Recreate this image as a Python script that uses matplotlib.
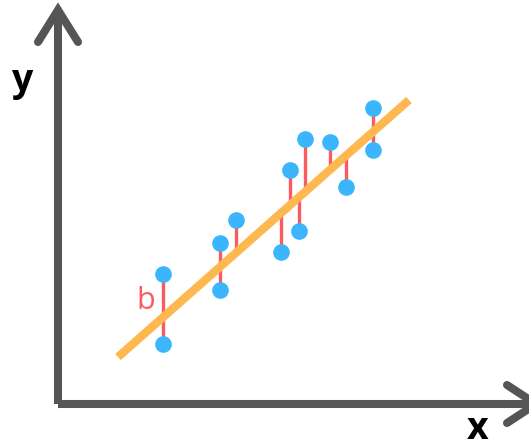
import numpy as np
import matplotlib
matplotlib.use("Agg")
import matplotlib.pyplot as plt

# ---------- data --------------------------------------------------------------
point_x = [105, 105, 162, 162, 178, 223, 232, 241, 247, 272, 288, 315, 315]
point_y = [130, 60, 161, 114, 184, 152, 234, 173, 265, 262, 217, 296, 254]
fit_x = [60, 351]
fit_y = [47, 304]

AXIS_C = "#555555"
BLUE = "#3bb6fd"
RED = "#fb5a5e"
ORANGE = "#ffb74f"

# ---------- figure ------------------------------------------------------------
fig = plt.figure(figsize=(5.29, 4.43), dpi=100)
ax = fig.add_axes([0, 0, 1, 1])
ax.set_xlim(-58, 471)
ax.set_ylim(-39, 404)
ax.axis("off")

# axes with arrow heads
ax.plot([0, 0], [0, 394], color=AXIS_C, lw=5.8, solid_capstyle="butt")
ax.plot([-20, 0, 20], [362, 394, 362], color=AXIS_C, lw=5.8,
        solid_capstyle="round", solid_joinstyle="miter")
ax.plot([0, 478], [0, 0], color=AXIS_C, lw=5.8, solid_capstyle="butt")
ax.plot([449, 478, 449], [19, 0, -19], color=AXIS_C, lw=5.8,
        solid_capstyle="round", solid_joinstyle="miter")

# residuals down/up to the fitted line
slope = (fit_y[1] - fit_y[0]) / (fit_x[1] - fit_x[0])
line_at = fit_y[0] + slope * (np.array(point_x) - fit_x[0])
ax.vlines(point_x, line_at, point_y, color=RED, lw=2.4, zorder=2)

ax.plot(fit_x, fit_y, color=ORANGE, lw=6, solid_capstyle="butt", zorder=3)
ax.plot(point_x, point_y, "o", ms=12, color=BLUE, mec="none", zorder=4)

# labels
ax.text(88, 103, "b", color=RED, fontsize=22, ha="center", va="center",
        family="Open Sans")
ax.text(-36, 323, "y", color="black", fontsize=27, ha="center", va="center",
        family="Open Sans", weight="bold")
ax.text(420, -25, "x", color="black", fontsize=27, ha="center", va="center",
        family="Open Sans", weight="bold")

fig.savefig("out.png", dpi=100)
